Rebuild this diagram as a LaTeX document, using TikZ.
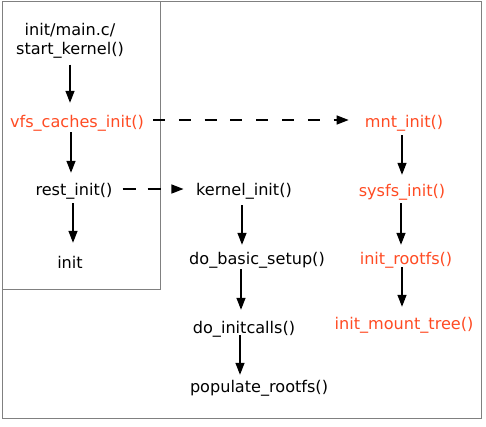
\documentclass[tikz,border=0pt]{standalone}
\usepackage{fontspec}
\setmainfont{DejaVu Sans}
\usetikzlibrary{arrows.meta}
\definecolor{fnred}{RGB}{255,75,35}
\definecolor{framegray}{RGB}{128,128,128}
\begin{document}
\begin{tikzpicture}[x=1pt,y=-1pt,
  fn/.style={inner sep=0pt, text height=13pt, text depth=1pt,
    font=\fontsize{16.1}{19}\selectfont},
  vfsfn/.style={fn, text=fnred},
  flow/.style={line width=1.3pt, -{Triangle[length=12pt,width=9pt]}},
  call/.style={flow, dash pattern=on 12pt off 13.8pt},
  frame/.style={draw=framegray, line width=1pt}]
\useasboundingbox (0,0) rectangle (486,426);

% frames: whole picture and the start_kernel() part
\draw[frame] (2,1) rectangle (481,418);
\draw[frame] (2,1) rectangle (160,289);

% start_kernel() path
\node[inner sep=0pt, align=center, font=\fontsize{16.1}{19}\selectfont]
  (sk) at (70,40.5) {init/main.c/\\start\_kernel()};
\node[vfsfn] (vfs)  at (77,121) {vfs\_caches\_init()};
\node[fn]    (rest) at (74,189) {rest\_init()};
\node[fn]    (init) at (70,262) {init};

% kernel_init() path
\node[fn] (kern) at (244,189) {kernel\_init()};
\node[fn] (dbs)  at (257,258) {do\_basic\_setup()};
\node[fn] (dic)  at (244,327) {do\_initcalls()};
\node[fn] (pop)  at (259,386) {populate\_rootfs()};

% mnt_init() path
\node[vfsfn] (mnt)   at (404,121) {mnt\_init()};
\node[vfsfn] (sysfs) at (402,190) {sysfs\_init()};
\node[vfsfn] (rfs)   at (406,258) {init\_rootfs()};
\node[vfsfn] (imt)   at (404,323) {init\_mount\_tree()};

% calls inside start_kernel()
\draw[flow, shorten <=6.5pt, shorten >=11pt] (sk.south) -- (sk.south |- vfs.north);
\draw[flow, shorten <=4pt, shorten >=9pt] ([xshift=-3pt]rest.north |- vfs.south) -- ([xshift=-3pt]rest.north);
\draw[flow, shorten <=7pt, shorten >=12pt] ([xshift=-1pt]rest.south) -- ([xshift=-1pt]rest.south |- init.north);

% calls inside kernel_init()
\draw[flow, shorten <=9pt, shorten >=6pt] ([xshift=-2pt]kern.south) -- ([xshift=-2pt]kern.south |- dbs.north);
\draw[flow, shorten <=4pt, shorten >=10pt] ([xshift=-3pt]dic.north |- dbs.south) -- ([xshift=-3pt]dic.north);
\draw[flow, shorten <=1pt, shorten >=4pt] ([xshift=-4pt]dic.south) -- ([xshift=-4pt]dic.south |- pop.north);

% calls inside mnt_init()
\draw[flow, shorten <=7pt, shorten >=8pt] (sysfs.north |- mnt.south) -- (sysfs.north);
\draw[flow, shorten <=6pt, shorten >=6pt] ([xshift=-1pt]sysfs.south) -- ([xshift=-1pt]sysfs.south |- rfs.north);
\draw[flow, shorten <=2pt, shorten >=9pt] ([xshift=-4pt]rfs.south) -- ([xshift=-4pt]rfs.south |- imt.north);

% calls leaving start_kernel()
\draw[call, shorten <=9pt, shorten >=16pt] ([yshift=1pt]vfs.east) -- ([yshift=1pt]vfs.east -| mnt.west);
\draw[call, dash pattern=on 13pt off 12pt, shorten <=10pt, shorten >=12.5pt] (rest.east) -- (rest.east -| kern.west);
\end{tikzpicture}
\end{document}
